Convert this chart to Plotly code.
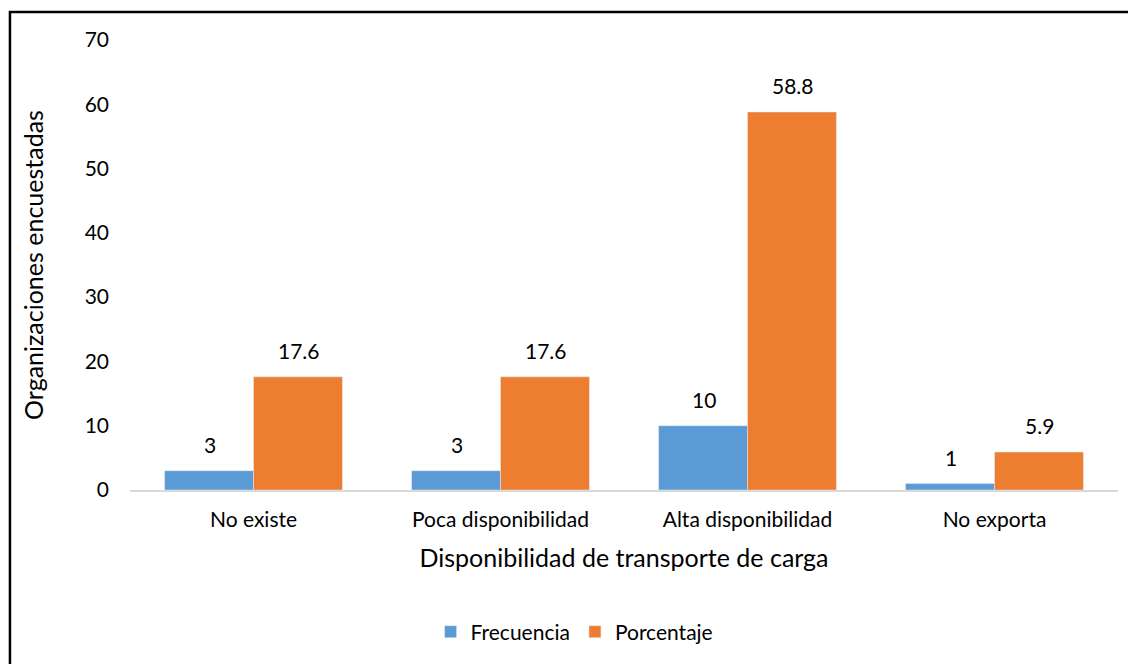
import plotly.graph_objects as go

categorias = ["No existe", "Poca disponibilidad", "Alta disponibilidad", "No exporta"]
frecuencia = [3, 3, 10, 1]
porcentaje = [17.6, 17.6, 58.8, 5.9]
etiquetas_frec = ["3", "3", "10", "1"]
etiquetas_porc = ["17.6", "17.6", "58.8", "5.9"]

AZUL = "#5B9BD5"
NARANJA = "#ED7D31"
FUENTE = "Lato, Carlito, 'Open Sans', sans-serif"

fig = go.Figure()
fig.add_trace(go.Bar(x=categorias, y=frecuencia, name="Frecuencia", marker_color=AZUL))
fig.add_trace(go.Bar(x=categorias, y=porcentaje, name="Porcentaje", marker_color=NARANJA))

# etiquetas de datos encima de cada barra (estilo Excel)
for cat, v, t in zip(categorias, frecuencia, etiquetas_frec):
    fig.add_annotation(x=cat, y=v, text=t, showarrow=False, xshift=-44,
                       yanchor="bottom", yshift=12, font=dict(size=21, color="#000"))
for cat, v, t in zip(categorias, porcentaje, etiquetas_porc):
    fig.add_annotation(x=cat, y=v, text=t, showarrow=False, xshift=45,
                       yanchor="bottom", yshift=12, font=dict(size=21, color="#000"))

# marco del gráfico
fig.add_shape(type="rect", xref="paper", yref="paper",
              x0=-0.1215, x1=1.2, y0=-0.6, y1=1.062,
              line=dict(color="black", width=2.5), layer="above")

# la página tiene un margen de 8 px, se descuenta del tamaño
fig.update_layout(
    width=1128, height=656,
    margin=dict(l=122, r=18, t=32, b=166),
    paper_bgcolor="white", plot_bgcolor="white",
    font=dict(family=FUENTE, size=21, color="#000"),
    barmode="group", bargap=0.28, bargroupgap=0,
    xaxis=dict(
        title=dict(text="Disponibilidad de transporte de carga", font=dict(size=25), standoff=19),
        showline=True, linecolor="#D9D9D9", linewidth=2, ticks="",
        tickfont=dict(size=21), ticklabelstandoff=10,
    ),
    yaxis=dict(
        title=dict(text="Organizaciones encuestadas", font=dict(size=25), standoff=33),
        range=[0, 70], dtick=10, showgrid=False, zeroline=False,
        showline=False, ticks="", tickfont=dict(size=21), ticklabelstandoff=20,
    ),
    legend=dict(orientation="h", x=0.45, xanchor="center", y=-0.3156, yanchor="middle",
                font=dict(size=21), itemwidth=30),
)

fig.write_html("out.html")
